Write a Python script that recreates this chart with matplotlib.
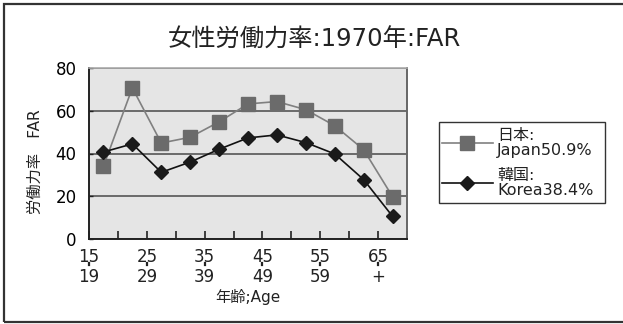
import matplotlib
matplotlib.use("Agg")
import matplotlib.pyplot as plt
from matplotlib.patches import Rectangle
from matplotlib.lines import Line2D
import matplotlib.transforms as mtransforms

plt.rcParams['font.family'] = ['DejaVu Sans', 'Noto Sans CJK JP']

# Female labour-force participation rate by age group, 1970
age_groups = ["15-19", "20-24", "25-29", "30-34", "35-39", "40-44",
              "45-49", "50-54", "55-59", "60-64", "65+"]
japan = [34.0, 70.7, 44.9, 47.6, 54.8, 63.2, 64.3, 60.5, 53.0, 41.8, 19.8]
korea = [40.7, 44.5, 31.2, 36.0, 42.0, 47.3, 48.7, 45.1, 39.8, 27.8, 10.6]
tick_top = ["15", "25", "35", "45", "55", "65"]
tick_bottom = ["19", "29", "39", "49", "59", "+"]
japan_label = "日本:\nJapan50.9%"
korea_label = "韓国:\nKorea38.4%"

W, H = 623, 324
fig = plt.figure(figsize=(W / 100, H / 100), dpi=100)
fig.patch.set_facecolor("white")

# outer frame
fig.patches.append(Rectangle((4 / W, 2 / H), 1.0, 1 - 6 / H, transform=fig.transFigure,
                             fill=False, edgecolor="#333333", linewidth=1.6))

ax = fig.add_axes([89 / W, 85 / H, (407 - 89) / W, (239 - 68) / H])
ax.set_facecolor("#e5e5e5")

n = len(age_groups)
x = [i + 0.5 for i in range(n)]
ax.plot(x, japan, color="#808080", linewidth=1.2, marker="s", markersize=9.8,
        markerfacecolor="#6b6b6b", markeredgecolor="#6b6b6b", zorder=3)
ax.plot(x, korea, color="#111111", linewidth=1.2, marker="D", markersize=7,
        markerfacecolor="#1a1a1a", markeredgecolor="#1a1a1a", zorder=4)

ax.set_xlim(0, n)
ax.set_ylim(0, 80)
ax.set_yticks([0, 20, 40, 60, 80])
ax.yaxis.grid(True, color="#555555", linewidth=1.2)
ax.set_axisbelow(True)

ax.set_xticks(range(0, n + 1))
ax.set_xticklabels([])
ax.tick_params(axis="x", direction="in", length=6, width=1.2, color="#222222")
ax.tick_params(axis="y", direction="in", length=3, width=1.0, color="#222222",
               labelsize=12, pad=9)

for sp in ["left", "bottom"]:
    ax.spines[sp].set_color("#222222")
    ax.spines[sp].set_linewidth(1.4)
ax.spines["top"].set_color("#aaaaaa")
ax.spines["top"].set_linewidth(1.2)
ax.spines["right"].set_color("#666666")
ax.spines["right"].set_linewidth(1.4)

# two-row age labels at group boundaries
trans = mtransforms.blended_transform_factory(ax.transData, ax.transAxes)
for k, (top, bot) in enumerate(zip(tick_top, tick_bottom)):
    xp = 2 * k
    ax.text(xp, -0.05, top, transform=trans, ha="center", va="top", fontsize=12,
            color="#222222")
    ax.text(xp, -0.17, bot, transform=trans, ha="center", va="top", fontsize=12,
            color="#222222")
    ax.add_line(Line2D([xp, xp], [-0.138, -0.152], transform=trans, color="#222222",
                       linewidth=1.6, clip_on=False))

fig.text(248 / W, 1 - 297 / H, "年齢;Age", ha="center", va="center", fontsize=11,
         color="#222222")
fig.text(35 / W, 1 - 162 / H, "労働力率　FAR", ha="center", va="center", rotation=90,
         fontsize=11, color="#222222")
fig.text(314 / W, 1 - 40 / H, "女性労働力率:1970年:FAR", ha="center", va="center",
         fontsize=17.5, color="#222222")

# legend
fig.patches.append(Rectangle((439 / W, 1 - 203 / H), (605 - 439) / W, (203 - 122) / H,
                             transform=fig.transFigure, fill=False, edgecolor="#333333",
                             linewidth=1.0))
for yc, lab, col, mk, ms, mfc in [(143, japan_label, "#808080", "s", 9.8, "#6b6b6b"),
                                  (183, korea_label, "#111111", "D", 7, "#1a1a1a")]:
    fig.add_artist(Line2D([442 / W, 493 / W], [1 - yc / H, 1 - yc / H],
                          transform=fig.transFigure, color=col, linewidth=1.2))
    fig.add_artist(Line2D([467 / W], [1 - yc / H], transform=fig.transFigure,
                          marker=mk, markersize=ms, markerfacecolor=mfc,
                          markeredgecolor=mfc, linestyle="none"))
    fig.text(497 / W, 1 - yc / H, lab, ha="left", va="center", fontsize=11.5,
             color="#222222", linespacing=0.95)

fig.savefig("out.png", dpi=100)
